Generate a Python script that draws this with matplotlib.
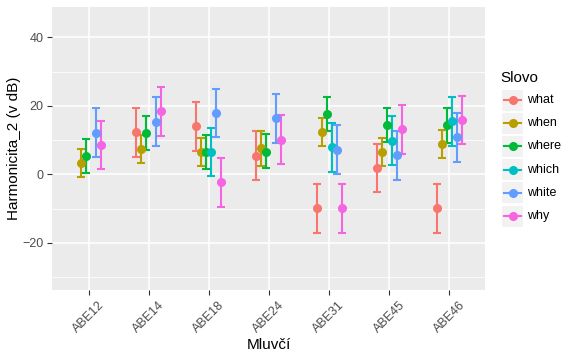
import numpy as np
import matplotlib
matplotlib.use("Agg")
import matplotlib.pyplot as plt
from matplotlib.lines import Line2D
from matplotlib.patches import Rectangle

plt.rcParams["font.family"] = ["Liberation Sans", "DejaVu Sans"]

speakers = ["ABE12", "ABE14", "ABE18", "ABE24", "ABE31", "ABE45", "ABE46"]
words = ["what", "when", "where", "which", "white", "why"]
colors = ["#F8766D", "#B79F00", "#00BA38", "#00BFC4", "#619CFF", "#F564E3"]
nan = np.nan

# mean values per word (one value per speaker)
mean_what = [nan, 12.3, 14.1, 5.3, -9.9, 1.8, -9.9]
mean_when = [3.2, 7.3, 6.4, 7.8, 12.3, 6.5, 8.8]
mean_where = [5.3, 12.0, 6.4, 6.6, 17.5, 14.4, 14.3]
mean_which = [nan, nan, 6.4, nan, 8.1, 9.7, 15.6]
mean_white = [12.0, 15.2, 17.8, 16.4, 7.1, 5.6, 11.0]
mean_why = [8.6, 18.5, -2.3, 10.0, -9.9, 13.2, 15.9]

# error bar ends
low_what = [nan, 5.1, 6.9, -1.7, -17.1, -5.1, -17.1]
high_what = [nan, 19.5, 21.2, 12.7, -2.7, 8.9, -2.7]
low_when = [-0.7, 3.4, 2.5, 2.5, 8.4, 2.5, 4.9]
high_when = [7.4, 11.5, 10.7, 12.7, 16.5, 10.7, 13.0]
low_where = [0.5, 7.1, 1.5, 1.9, 12.7, 9.4, 9.1]
high_where = [10.4, 17.1, 11.5, 11.9, 22.7, 19.5, 19.5]
low_which = [nan, nan, -0.4, nan, 0.7, 2.8, 8.4]
high_which = [nan, nan, 13.6, nan, 15.1, 17.1, 22.7]
low_white = [5.1, 8.4, 11.0, 9.2, 0.2, -1.7, 3.7]
high_white = [19.5, 22.7, 24.9, 23.5, 14.4, 12.7, 18.0]
low_why = [1.5, 11.3, -9.6, 3.1, -17.1, 5.9, 8.8]
high_why = [15.7, 25.5, 4.8, 17.3, -2.7, 20.4, 23.0]

means = [mean_what, mean_when, mean_where, mean_which, mean_white, mean_why]
lows = [low_what, low_when, low_where, low_which, low_white, low_why]
highs = [high_what, high_when, high_where, high_which, high_white, high_why]

fig = plt.figure(figsize=(5.85, 3.58), dpi=100)
ax = fig.add_axes([0.0897, 0.19, 0.740, 0.7905])
ax.set_facecolor("#EBEBEB")

x = np.arange(1, len(speakers) + 1)
dodge = 0.5
n = len(words)

for i in range(n):
    xs = x + (i - (n - 1) / 2) * dodge / n
    m = np.array(means[i])
    lo = np.array(lows[i])
    hi = np.array(highs[i])
    ax.errorbar(xs, m, yerr=[m - lo, hi - m], fmt="none", ecolor=colors[i],
                elinewidth=1.5, capsize=3.0, capthick=1.5, zorder=3)

for i in range(n):
    xs = x + (i - (n - 1) / 2) * dodge / n
    ax.plot(xs, means[i], "o", color=colors[i], markersize=5.5, zorder=4)

ax.set_xlim(0.4, len(speakers) + 0.6)
ax.set_ylim(-33.8, 48.9)
ax.set_yticks([-20, 0, 20, 40])
ax.set_yticks([-30, -10, 10, 30], minor=True)
ax.set_xticks(x)
ax.set_xticklabels(speakers, rotation=45, ha="center", va="top")

ax.grid(True, which="major", color="white", linewidth=1.1, zorder=0)
ax.grid(True, which="minor", axis="y", color="white", linewidth=0.55, zorder=0)
ax.set_axisbelow(True)
for s in ax.spines.values():
    s.set_visible(False)
ax.tick_params(which="major", length=3.5, width=0.8, color="#333333",
               labelsize=9, labelcolor="#4D4D4D", pad=3)
ax.tick_params(which="minor", length=0)

ax.set_xlabel("Mluvčí", fontsize=11, color="black", labelpad=2)
ax.set_ylabel("Harmonicita_2 (v dB)", fontsize=11, color="black", labelpad=1)

# legend drawn like ggplot
fig.text(500 / 585, 1 - 78 / 358, "Slovo", fontsize=11, va="center", ha="left")
for i, w in enumerate(words):
    yc = 1 - (100 + i * 23.2) / 358
    fig.patches.append(Rectangle((502 / 585, yc - 10.5 / 358), 21 / 585, 21 / 358,
                                 transform=fig.transFigure, facecolor="#F2F2F2",
                                 edgecolor="none"))
    fig.lines.append(Line2D([504 / 585, 521 / 585], [yc, yc], transform=fig.transFigure,
                            color=colors[i], linewidth=1.5, marker="none"))
    fig.lines.append(Line2D([512.5 / 585], [yc], transform=fig.transFigure,
                            color=colors[i], marker="o", markersize=5.5))
    fig.text(527 / 585, yc, w, fontsize=9, va="center", ha="left")

fig.savefig("out.png", dpi=100)
